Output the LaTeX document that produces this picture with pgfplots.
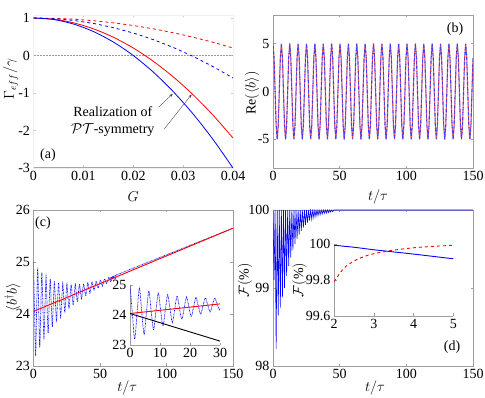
\documentclass[border=0pt]{standalone}
\usepackage{fontspec}
\setmainfont{Liberation Serif}
\usepackage{amsmath}
\usepackage{pgfplots}
\usepackage{pgfplotstable}
\pgfplotsset{compat=1.18}
\usetikzlibrary{arrows.meta}

\definecolor{frame}{gray}{0.62}

\pgfplotsset{
  panel/.style={
    scale only axis, anchor=north west,
    axis line style={frame},
    tick style={frame, line width=0.4pt},
    major tick length=2.5pt,
    tick align=inside,
    ticklabel style={font=\fontsize{14}{14}\selectfont, text=black},
    label style={font=\fontsize{14}{14}\selectfont},
    /pgf/number format/assume math mode=true,
    scaled ticks=false,
  },
  xlab/.style 2 args={xlabel style={at={(axis description cs:#1,#2)}, anchor=center}},
  ylab/.style 2 args={ylabel style={at={(axis description cs:#1,#2)}, anchor=center, rotate=0}},
}

% Re<b>, sampled every pi/4
\pgfplotstableread[row sep=\\]{
t v\\
0.00 5\\ 0.79 3.54\\ 1.57 0\\ 2.36 -3.54\\ 3.14 -5\\ 3.93 -3.54\\ 4.71 0\\ 5.50 3.54\\
6.28 5\\ 7.07 3.54\\ 7.85 0\\ 8.64 -3.54\\ 9.42 -5\\ 10.21 -3.54\\ 11.00 0\\ 11.78 3.54\\
12.57 5\\ 13.35 3.54\\ 14.14 0\\ 14.92 -3.54\\ 15.71 -5\\ 16.49 -3.54\\ 17.28 0\\ 18.06 3.54\\
18.85 5\\ 19.63 3.54\\ 20.42 0\\ 21.21 -3.54\\ 21.99 -5\\ 22.78 -3.54\\ 23.56 0\\ 24.35 3.54\\
25.13 5\\ 25.92 3.54\\ 26.70 0\\ 27.49 -3.54\\ 28.27 -5\\ 29.06 -3.54\\ 29.85 0\\ 30.63 3.54\\
31.42 5\\ 32.20 3.54\\ 32.99 0\\ 33.77 -3.54\\ 34.56 -5\\ 35.34 -3.54\\ 36.13 0\\ 36.91 3.54\\
37.70 5\\ 38.48 3.54\\ 39.27 0\\ 40.06 -3.54\\ 40.84 -5\\ 41.63 -3.54\\ 42.41 0\\ 43.20 3.54\\
43.98 5\\ 44.77 3.54\\ 45.55 0\\ 46.34 -3.54\\ 47.12 -5\\ 47.91 -3.54\\ 48.69 0\\ 49.48 3.54\\
50.27 5\\ 51.05 3.54\\ 51.84 0\\ 52.62 -3.54\\ 53.41 -5\\ 54.19 -3.54\\ 54.98 0\\ 55.76 3.54\\
56.55 5\\ 57.33 3.54\\ 58.12 0\\ 58.90 -3.54\\ 59.69 -5\\ 60.48 -3.54\\ 61.26 0\\ 62.05 3.54\\
62.83 5\\ 63.62 3.54\\ 64.40 0\\ 65.19 -3.54\\ 65.97 -5\\ 66.76 -3.54\\ 67.54 0\\ 68.33 3.54\\
69.12 5\\ 69.90 3.54\\ 70.69 0\\ 71.47 -3.54\\ 72.26 -5\\ 73.04 -3.54\\ 73.83 0\\ 74.61 3.54\\
75.40 5\\ 76.18 3.54\\ 76.97 0\\ 77.75 -3.54\\ 78.54 -5\\ 79.33 -3.54\\ 80.11 0\\ 80.90 3.54\\
81.68 5\\ 82.47 3.54\\ 83.25 0\\ 84.04 -3.54\\ 84.82 -5\\ 85.61 -3.54\\ 86.39 0\\ 87.18 3.54\\
87.96 5\\ 88.75 3.54\\ 89.54 0\\ 90.32 -3.54\\ 91.11 -5\\ 91.89 -3.54\\ 92.68 0\\ 93.46 3.54\\
94.25 5\\ 95.03 3.54\\ 95.82 0\\ 96.60 -3.54\\ 97.39 -5\\ 98.17 -3.54\\ 98.96 0\\ 99.75 3.54\\
100.53 5\\ 101.32 3.54\\ 102.10 0\\ 102.89 -3.54\\ 103.67 -5\\ 104.46 -3.54\\ 105.24 0\\ 106.03 3.54\\
106.81 5\\ 107.60 3.54\\ 108.38 0\\ 109.17 -3.54\\ 109.96 -5\\ 110.74 -3.54\\ 111.53 0\\ 112.31 3.54\\
113.10 5\\ 113.88 3.54\\ 114.67 0\\ 115.45 -3.54\\ 116.24 -5\\ 117.02 -3.54\\ 117.81 0\\ 118.60 3.54\\
119.38 5\\ 120.17 3.54\\ 120.95 0\\ 121.74 -3.54\\ 122.52 -5\\ 123.31 -3.54\\ 124.09 0\\ 124.88 3.54\\
125.66 5\\ 126.45 3.54\\ 127.23 0\\ 128.02 -3.54\\ 128.81 -5\\ 129.59 -3.54\\ 130.38 0\\ 131.16 3.54\\
131.95 5\\ 132.73 3.54\\ 133.52 0\\ 134.30 -3.54\\ 135.09 -5\\ 135.87 -3.54\\ 136.66 0\\ 137.44 3.54\\
138.23 5\\ 139.02 3.54\\ 139.80 0\\ 140.59 -3.54\\ 141.37 -5\\ 142.16 -3.54\\ 142.94 0\\ 143.73 3.54\\
144.51 5\\ 145.30 3.54\\ 146.08 0\\ 146.87 -3.54\\ 147.65 -5\\ 148.44 -3.54\\ 149.23 0\\ 150.00 3.50\\
}\reb

% <b^dagger b>, oscillating part
\pgfplotstableread[row sep=\\]{
t n\\
0 25.000\\ 0.785 24.058\\ 1.571 23.192\\ 2.356 24.075\\ 3.142 24.889\\ 3.927 24.092\\ 4.712 23.359\\ 5.498 24.109\\
6.283 24.800\\ 7.069 24.125\\ 7.854 23.505\\ 8.639 24.142\\ 9.425 24.729\\ 10.210 24.159\\ 10.996 23.635\\ 11.781 24.176\\
12.566 24.674\\ 13.352 24.192\\ 14.137 23.749\\ 14.923 24.209\\ 15.708 24.633\\ 16.493 24.226\\ 17.279 23.852\\ 18.064 24.243\\
18.850 24.603\\ 19.635 24.259\\ 20.420 23.944\\ 21.206 24.276\\ 21.991 24.583\\ 22.777 24.293\\ 23.562 24.027\\ 24.347 24.310\\
25.133 24.571\\ 25.918 24.326\\ 26.704 24.102\\ 27.489 24.343\\ 28.274 24.566\\ 29.060 24.360\\ 29.845 24.171\\ 30.631 24.377\\
31.416 24.567\\ 32.201 24.393\\ 32.987 24.235\\ 33.772 24.410\\ 34.558 24.573\\ 35.343 24.427\\ 36.128 24.294\\ 36.914 24.444\\
37.699 24.583\\ 38.485 24.461\\ 39.270 24.349\\ 40.055 24.477\\ 40.841 24.596\\ 41.626 24.494\\ 42.412 24.401\\ 43.197 24.511\\
43.982 24.613\\ 44.768 24.528\\ 45.553 24.450\\ 46.338 24.544\\ 47.124 24.632\\ 47.909 24.561\\ 48.695 24.496\\ 49.480 24.578\\
50.265 24.654\\ 51.051 24.595\\ 51.836 24.541\\ 52.622 24.611\\ 53.407 24.677\\ 54.192 24.628\\ 54.978 24.584\\ 55.763 24.645\\
56.549 24.702\\ 57.334 24.662\\ 58.119 24.625\\ 58.905 24.678\\ 59.690 24.728\\ 60.476 24.695\\ 61.261 24.666\\ 62.046 24.712\\
62.832 24.755\\ 150 25.650\\
}\nbb

% fidelity F(%)
\pgfplotstableread[row sep=\\]{
t F\\
0 100\\ 0.79 99.10\\ 1.57 100\\ 2.36 98.22\\ 3.14 100\\ 3.93 98.65\\ 4.71 100\\ 5.50 98.75\\
6.28 100\\ 7.07 98.88\\ 7.85 100\\ 8.64 99.00\\ 9.42 100\\ 10.21 99.152\\ 11.00 100\\ 11.78 99.282\\
12.57 100\\ 13.35 99.391\\ 14.14 100\\ 14.92 99.484\\ 15.71 100\\ 16.49 99.562\\ 17.28 100\\ 18.06 99.629\\
18.85 100\\ 19.63 99.686\\ 20.42 100\\ 21.21 99.734\\ 21.99 100\\ 22.78 99.774\\ 23.56 100\\ 24.35 99.809\\
25.13 100\\ 25.92 99.838\\ 26.70 100\\ 27.49 99.863\\ 28.27 100\\ 29.06 99.884\\ 29.85 100\\ 30.63 99.901\\
31.42 100\\ 32.20 99.916\\ 32.99 100\\ 33.77 99.929\\ 34.56 100\\ 35.34 99.940\\ 36.13 100\\ 36.91 99.949\\
37.70 100\\ 38.48 99.957\\ 39.27 100\\ 40.06 99.963\\ 40.84 100\\ 41.63 99.969\\ 42.41 100\\ 43.20 99.974\\
43.98 100\\ 44.77 99.978\\ 45.55 100\\ 150 100\\
}\fid

\begin{document}
\begin{tikzpicture}
\useasboundingbox (0,0) rectangle (485pt,-398pt);

% ---------- (a)
\begin{axis}[panel, at={(33.5pt,-15pt)}, width=199.5pt, height=153pt,
  xmin=0, xmax=0.04, ymin=-3, ymax=1.08,
  xtick={0,0.01,0.02,0.03,0.04}, xticklabels={0,0.01,0.02,0.03,0.04},
  ytick={-3,-2,-1,0,1},
  axis line style={gray!12}, tick style={gray!45},
  xlabel={$G$}, ylabel={$\Gamma_{eff}/\gamma$},
  xlab={0.5}{-0.19}, ylab={-0.115}{0.58}]
\draw[gray!70, line width=1pt] (rel axis cs:0,0) -- (rel axis cs:1,0);
\addplot[gray!80, densely dotted, line width=0.5pt] coordinates {(0,0) (0.04,0)};
\addplot[red, dashed, line width=0.8pt] coordinates {
 (0,1) (0.004,0.992) (0.008,0.968) (0.012,0.928) (0.016,0.872) (0.02,0.8)
 (0.024,0.712) (0.028,0.608) (0.032,0.488) (0.036,0.352) (0.04,0.2)};
\addplot[blue, dashed, line width=0.8pt] coordinates {
 (0,1) (0.004,0.984) (0.008,0.936) (0.012,0.856) (0.016,0.744) (0.02,0.6)
 (0.024,0.424) (0.028,0.216) (0.032,-0.024) (0.036,-0.296) (0.04,-0.6)};
\addplot[red, line width=0.8pt, smooth] coordinates {
 (0,1) (0.004,0.968) (0.008,0.872) (0.012,0.712) (0.016,0.488) (0.02,0.2)
 (0.024,-0.152) (0.028,-0.568) (0.032,-1.048) (0.036,-1.592) (0.04,-2.2)};
\addplot[blue, line width=0.8pt, smooth] coordinates {
 (0,1) (0.004,0.96) (0.008,0.84) (0.012,0.64) (0.016,0.36) (0.02,0)
 (0.024,-0.44) (0.028,-0.96) (0.032,-1.56) (0.036,-2.24) (0.04,-3)};
\draw[-{Stealth[length=3.5pt]}, black!75, line width=0.35pt] (axis cs:0.0251,-1.38) -- (axis cs:0.0279,-1.02);
\draw[-{Stealth[length=3.5pt]}, black!75, line width=0.35pt] (axis cs:0.0262,-1.96) -- (axis cs:0.0317,-1.04);
\node[font=\fontsize{14}{17}\selectfont, align=center, inner sep=0pt] at (axis cs:0.0159,-1.76)
  {Realization of\\$\mathcal{PT}$-symmetry};
\end{axis}

% ---------- (b)
\begin{axis}[panel, at={(273pt,-15pt)}, width=200pt, height=153pt,
  xmin=0, xmax=150, ymin=-8, ymax=8,
  xtick={0,50,100,150}, ytick={-5,0,5},
  xlabel={$t/\tau$}, ylabel={$\mathrm{Re}(\langle b\rangle)$},
  xlab={0.525}{-0.19}, ylab={-0.105}{0.49}]
\addplot[red!70, line width=1.1pt, dash pattern=on 3pt off 2pt] table[x=t, y=v] {\reb};
\addplot[blue!75, line width=1.1pt, dash pattern=on 3pt off 2pt, dash phase=2.5pt] table[x=t, y=v] {\reb};
\end{axis}

% ---------- (c)
\begin{axis}[panel, at={(33.5pt,-210pt)}, width=199.5pt, height=156pt,
  xmin=0, xmax=150, ymin=23, ymax=26,
  xtick={0,50,100,150}, ytick={23,24,25,26},
  xlabel={$t/\tau$}, ylabel={$\langle b^{\dagger} b\rangle$},
  xlab={0.47}{-0.141}, ylab={-0.105}{0.44}]
\addplot[blue, line width=0.7pt, dash pattern=on 0.7pt off 0.7pt, smooth] table[x=t, y=n] {\nbb};
\addplot[red, line width=0.9pt] coordinates {(0,24.05) (150,25.65)};
\end{axis}

% inset (c)
\begin{axis}[panel, at={(130pt,-285pt)}, width=90pt, height=60pt,
  xmin=0, xmax=30, ymin=23, ymax=25,
  axis x line*=bottom, axis y line*=left,
  xtick={0,10,20,30}, ytick={23,24,25}]
\addplot[blue, line width=0.7pt, dash pattern=on 0.7pt off 0.7pt, smooth] table[x=t, y=n] {\nbb};
\addplot[red, line width=0.9pt] coordinates {(0,24.05) (30,24.37)};
\addplot[black, line width=0.9pt] coordinates {(0,24.05) (30,23.13)};
\end{axis}

% ---------- (d)
\begin{axis}[panel, at={(273pt,-210pt)}, width=200pt, height=156pt,
  xmin=0, xmax=150, ymin=98, ymax=100,
  xtick={0,50,100,150}, ytick={98,99,100},
  xlabel={$t/\tau$}, ylabel={$\mathcal{F}(\%)$},
  xlab={0.51}{-0.141}, ylab={-0.14}{0.55}]
\addplot[blue, line width=0.6pt] table[x=t, y=F] {\fid};
\end{axis}

% inset (d)
\begin{axis}[panel, at={(334pt,-244pt)}, width=119.3pt, height=72pt,
  xmin=2, xmax=5, ymin=99.6, ymax=100,
  axis x line*=bottom, axis y line*=left,
  xtick={2,3,4,5}, ytick={99.6,99.8,100}, yticklabels={99.6,99.8,100},
  ylabel={$\mathcal{F}(\%)$}, ylab={-0.29}{0.5}]
\addplot[blue, line width=0.9pt, smooth] coordinates {
 (2,99.993) (2.5,99.982) (3,99.968) (3.5,99.956) (4,99.944) (4.5,99.931) (5,99.918)};
\addplot[red, line width=0.9pt, dashed, smooth] coordinates {
 (2,99.79) (2.25,99.866) (2.5,99.905) (2.75,99.930) (3,99.946) (3.25,99.957)
 (3.5,99.966) (4,99.979) (4.5,99.987) (5,99.993)};
\end{axis}

% panel letters
\node[font=\fontsize{14}{14}\selectfont] at (48pt,-155pt) {(a)};
\node[font=\fontsize{14}{14}\selectfont] at (455pt,-29pt) {(b)};
\node[font=\fontsize{14}{14}\selectfont] at (43pt,-223pt) {(c)};
\node[font=\fontsize{14}{14}\selectfont] at (452pt,-347pt) {(d)};
\end{tikzpicture}
\end{document}
